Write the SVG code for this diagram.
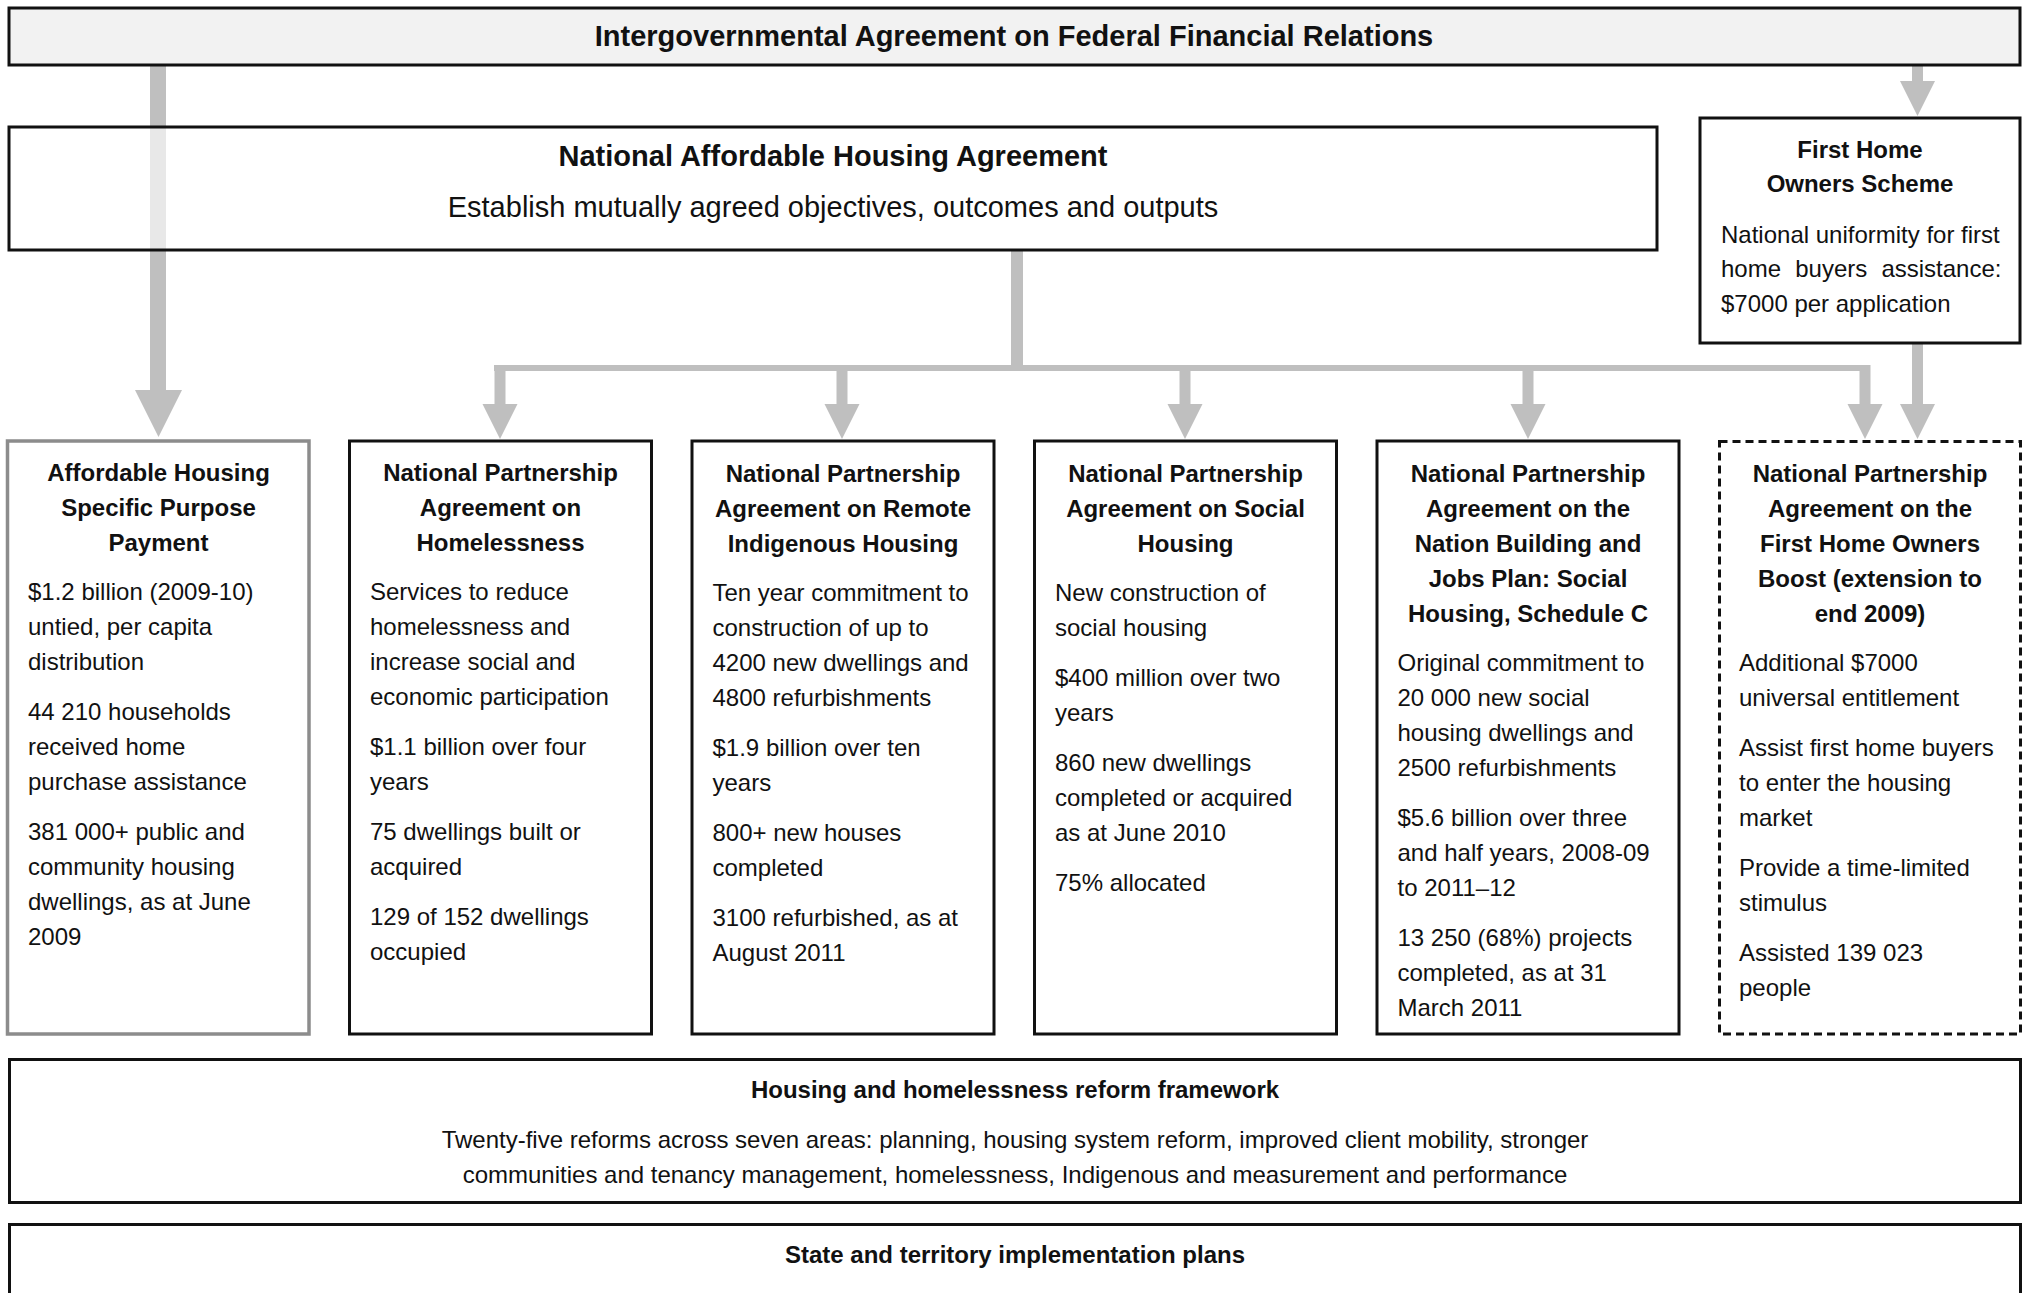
<svg xmlns="http://www.w3.org/2000/svg" width="2027" height="1293" viewBox="0 0 2027 1293">
<style>
text{font-family:"Liberation Sans",Arial,sans-serif;fill:#111}
.t29{font-size:29px}
.t24{font-size:24px}
.b{font-weight:bold}
.c{text-anchor:middle}
.box{fill:#fff;stroke:#111;stroke-width:3}
.gbox{fill:#fff;stroke:#8c8c8c;stroke-width:3.5}
.dbox{fill:#fff;stroke:#111;stroke-width:3;stroke-dasharray:8 5}
.arr{fill:#bfbfbf}
</style>
<rect width="2027" height="1293" fill="#fff"/>

<g id="connectors">
  <!-- left big arrow -->
  <rect class="arr" x="150" y="65" width="16" height="326"/>
  <rect x="150" y="128" width="16" height="121" fill="#e8e8e8"/>
  <polygon class="arr" points="135,390 182,390 158.5,437"/>
  <!-- top to FHOS -->
  <rect class="arr" x="1912" y="65" width="11" height="17"/>
  <polygon class="arr" points="1900,81 1935,81 1917.5,116"/>
  <!-- NAHA down -->
  <rect class="arr" x="1011" y="250" width="12" height="121"/>
  <rect class="arr" x="494" y="365" width="1376" height="6"/>
  <rect class="arr" x="494.5" y="365" width="11" height="40"/>
  <polygon class="arr" points="482.5,404 517.5,404 500,439"/>
  <rect class="arr" x="836.5" y="365" width="11" height="40"/>
  <polygon class="arr" points="824.5,404 859.5,404 842,439"/>
  <rect class="arr" x="1179.5" y="365" width="11" height="40"/>
  <polygon class="arr" points="1167.5,404 1202.5,404 1185,439"/>
  <rect class="arr" x="1522.5" y="365" width="11" height="40"/>
  <polygon class="arr" points="1510.5,404 1545.5,404 1528,439"/>
  <rect class="arr" x="1859.5" y="365" width="11" height="40"/>
  <polygon class="arr" points="1847.5,404 1882.5,404 1865,439"/>
  <!-- FHOS to boost -->
  <rect class="arr" x="1912" y="343" width="11" height="62"/>
  <polygon class="arr" points="1900,404 1935,404 1917.5,439"/>
</g>

<g id="igafr">
  <rect x="9" y="8" width="2011" height="57" fill="#f2f2f2" stroke="#111" stroke-width="3"/>
  <text class="t29 b c" x="1014" y="46">Intergovernmental Agreement on Federal Financial Relations</text>
</g>

<g id="naha">
  <rect x="9" y="127" width="1648" height="123" fill="none" stroke="#111" stroke-width="3"/>
  <text class="t29 b c" x="833" y="166">National Affordable Housing Agreement</text>
  <text class="t29 c" x="833" y="217">Establish mutually agreed objectives, outcomes and outputs</text>
</g>

<g id="fhos">
  <rect class="box" x="1700" y="118" width="320" height="225"/>
  <text class="t24 b c" x="1860"><tspan x="1860" y="158">First Home</tspan><tspan x="1860" y="192">Owners Scheme</tspan></text>
  <text class="t24" x="1721"><tspan x="1721" y="243">National uniformity for first</tspan><tspan x="1721" y="277" word-spacing="7.5">home buyers assistance:</tspan><tspan x="1721" y="312">$7000 per application</tspan></text>
</g>

<g id="ahspp">
  <rect class="gbox" x="7.5" y="441" width="301.5" height="593"/>
  <text class="t24 b c"><tspan x="158.5" y="481">Affordable Housing</tspan><tspan x="158.5" y="516">Specific Purpose</tspan><tspan x="158.5" y="551">Payment</tspan></text>
  <text class="t24"><tspan x="28" y="600">$1.2 billion (2009-10)</tspan><tspan x="28" y="635">untied, per capita</tspan><tspan x="28" y="670">distribution</tspan><tspan x="28" y="720">44 210 households</tspan><tspan x="28" y="755">received home</tspan><tspan x="28" y="790">purchase assistance</tspan><tspan x="28" y="840">381 000+ public and</tspan><tspan x="28" y="875">community housing</tspan><tspan x="28" y="910">dwellings, as at June</tspan><tspan x="28" y="945">2009</tspan></text>
</g>

<g id="npa-homelessness">
  <rect class="box" x="349.5" y="441" width="302" height="593"/>
  <text class="t24 b c"><tspan x="500.5" y="481">National Partnership</tspan><tspan x="500.5" y="516">Agreement on</tspan><tspan x="500.5" y="551">Homelessness</tspan></text>
  <text class="t24"><tspan x="370" y="600">Services to reduce</tspan><tspan x="370" y="635">homelessness and</tspan><tspan x="370" y="670">increase social and</tspan><tspan x="370" y="705">economic participation</tspan><tspan x="370" y="755">$1.1 billion over four</tspan><tspan x="370" y="790">years</tspan><tspan x="370" y="840">75 dwellings built or</tspan><tspan x="370" y="875">acquired</tspan><tspan x="370" y="925">129 of 152 dwellings</tspan><tspan x="370" y="960">occupied</tspan></text>
</g>

<g id="npa-remote">
  <rect class="box" x="692" y="441" width="302" height="593"/>
  <text class="t24 b c"><tspan x="843" y="482">National Partnership</tspan><tspan x="843" y="517">Agreement on Remote</tspan><tspan x="843" y="552">Indigenous Housing</tspan></text>
  <text class="t24"><tspan x="712.5" y="601">Ten year commitment to</tspan><tspan x="712.5" y="636">construction of up to</tspan><tspan x="712.5" y="671">4200 new dwellings and</tspan><tspan x="712.5" y="706">4800 refurbishments</tspan><tspan x="712.5" y="756">$1.9 billion over ten</tspan><tspan x="712.5" y="791">years</tspan><tspan x="712.5" y="841">800+ new houses</tspan><tspan x="712.5" y="876">completed</tspan><tspan x="712.5" y="926">3100 refurbished, as at</tspan><tspan x="712.5" y="961">August 2011</tspan></text>
</g>

<g id="npa-social">
  <rect class="box" x="1034.5" y="441" width="302" height="593"/>
  <text class="t24 b c"><tspan x="1185.5" y="482">National Partnership</tspan><tspan x="1185.5" y="517">Agreement on Social</tspan><tspan x="1185.5" y="552">Housing</tspan></text>
  <text class="t24"><tspan x="1055" y="601">New construction of</tspan><tspan x="1055" y="636">social housing</tspan><tspan x="1055" y="686">$400 million over two</tspan><tspan x="1055" y="721">years</tspan><tspan x="1055" y="771">860 new dwellings</tspan><tspan x="1055" y="806">completed or acquired</tspan><tspan x="1055" y="841">as at June 2010</tspan><tspan x="1055" y="891">75% allocated</tspan></text>
</g>

<g id="npa-nation-building">
  <rect class="box" x="1377" y="441" width="302" height="593"/>
  <text class="t24 b c"><tspan x="1528" y="482">National Partnership</tspan><tspan x="1528" y="517">Agreement on the</tspan><tspan x="1528" y="552">Nation Building and</tspan><tspan x="1528" y="587">Jobs Plan: Social</tspan><tspan x="1528" y="622">Housing, Schedule C</tspan></text>
  <text class="t24"><tspan x="1397.5" y="671">Original commitment to</tspan><tspan x="1397.5" y="706">20 000 new social</tspan><tspan x="1397.5" y="741">housing dwellings and</tspan><tspan x="1397.5" y="776">2500 refurbishments</tspan><tspan x="1397.5" y="826">$5.6 billion over three</tspan><tspan x="1397.5" y="861">and half years, 2008-09</tspan><tspan x="1397.5" y="896">to 2011–12</tspan><tspan x="1397.5" y="946">13 250 (68%) projects</tspan><tspan x="1397.5" y="981">completed, as at 31</tspan><tspan x="1397.5" y="1016">March 2011</tspan></text>
</g>

<g id="npa-fhob">
  <rect class="dbox" x="1719.5" y="441.5" width="301" height="592.5"/>
  <text class="t24 b c"><tspan x="1870" y="482">National Partnership</tspan><tspan x="1870" y="517">Agreement on the</tspan><tspan x="1870" y="552">First Home Owners</tspan><tspan x="1870" y="587">Boost (extension to</tspan><tspan x="1870" y="622">end 2009)</tspan></text>
  <text class="t24"><tspan x="1739" y="671">Additional $7000</tspan><tspan x="1739" y="706">universal entitlement</tspan><tspan x="1739" y="756">Assist first home buyers</tspan><tspan x="1739" y="791">to enter the housing</tspan><tspan x="1739" y="826">market</tspan><tspan x="1739" y="876">Provide a time-limited</tspan><tspan x="1739" y="911">stimulus</tspan><tspan x="1739" y="961">Assisted 139 023</tspan><tspan x="1739" y="996">people</tspan></text>
</g>

<g id="reform">
  <rect class="box" x="9.5" y="1059.5" width="2011" height="143"/>
  <text class="t24 b c" x="1015" y="1098">Housing and homelessness reform framework</text>
  <text class="t24 c"><tspan x="1015" y="1148">Twenty-five reforms across seven areas: planning, housing system reform, improved client mobility, stronger</tspan><tspan x="1015" y="1183">communities and tenancy management, homelessness, Indigenous and measurement and performance</tspan></text>
</g>

<g id="state-plans">
  <rect class="box" x="9.5" y="1224.5" width="2011" height="100"/>
  <text class="t24 b c" x="1015" y="1263">State and territory implementation plans</text>
</g>
</svg>
